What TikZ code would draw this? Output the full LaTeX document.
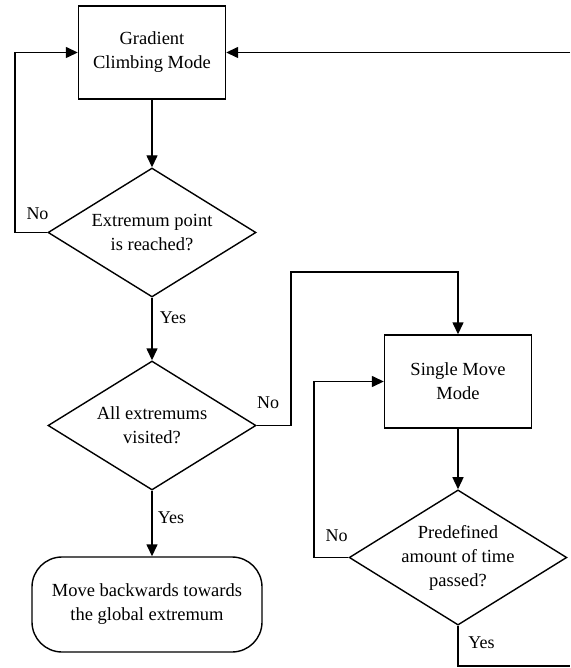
\documentclass[tikz,border=0pt]{standalone}
\usepackage{fontspec}
\setmainfont{Liberation Serif}
\newfontfamily\tnr{Liberation Serif}
\usetikzlibrary{shapes.geometric,arrows.meta}
\begin{document}
\begin{tikzpicture}[x=1pt,y=-1pt,
  every node/.style={font=\tnr\fontsize{18.5}{24}\selectfont, align=center},
  procbox/.style={draw, line width=1.4pt, rectangle, minimum width=147pt, minimum height=93pt, inner sep=0pt},
  decision/.style={draw, line width=1.4pt, diamond, aspect=1.61, minimum width=208pt, minimum height=129pt, inner sep=0pt},
  termbox/.style={draw, line width=1.4pt, rectangle, rounded corners=30pt, minimum width=230pt, minimum height=95pt, inner sep=0pt},
  lbl/.style={font=\tnr\fontsize{18}{20}\selectfont, inner sep=0pt},
  conn/.style={line width=1.4pt},
  arr/.style={line width=1.4pt, -{Triangle[length=12pt,width=11pt]}}
]
\useasboundingbox (0,0) rectangle (570,668);

\node[procbox] (g) at (152,52.5) {Gradient\\Climbing Mode};
\node[decision] (d1) at (152,232.5) {Extremum point\\is reached?};
\node[decision] (d2) at (152,425.5) {All extremums\\visited?};
\node[termbox] (t) at (147,604.5) {Move backwards towards\\the global extremum};
\node[procbox] (s) at (458,381.5) {Single Move\\Mode};
\node[decision] (d3) at (458,557.5) {Predefined\\amount of time\\passed?};

\coordinate (inR) at (570,52.5);
\coordinate (outR) at (570,666);

% main column
\draw[arr] (g.south) -- (d1.north);
\draw[arr] (d1.south) -- (d2.north);
\draw[arr] (d2.south) -- (d2.south |- t.north);

% No loop from d1
\draw[arr] (d1.west) -- (15,232.5) -- (15,52.5) -- (g.west);
% incoming from right
\draw[arr] (inR) -- (g.east);

% d2 No to single move
\draw[arr] (d2.east) -- (291,425.5) -- (291,272) -- (458,272) -- (s.north);

% single move to d3
\draw[arr] (s.south) -- (d3.north);
% d3 No loop
\draw[arr] (d3.west) -- (314,557.5) -- (314,381.5) -- (s.west);
% d3 Yes out
\draw[conn] (d3.south) -- (458,666) -- (outR);

% labels
\node[lbl] (n1) at (37.5,214) {No};
\node[lbl] (y1) at (173,317.5) {Yes};
\node[lbl] (n2) at (268,403) {No};
\node[lbl] (y2) at (171,518) {Yes};
\node[lbl] (n3) at (336.5,535.5) {No};
\node[lbl] (y3) at (481.5,643) {Yes};
\end{tikzpicture}
\end{document}
